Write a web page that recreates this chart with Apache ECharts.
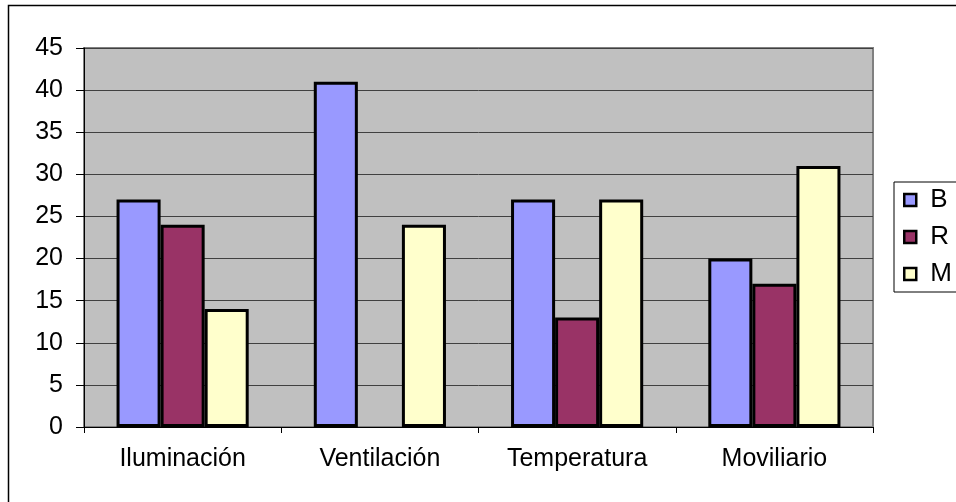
<!DOCTYPE html>
<html>
<head>
<meta charset="utf-8">
<script src="https://cdn.jsdelivr.net/npm/echarts@6/dist/echarts.min.js"></script>
<style>
  html, body { margin: 0; padding: 0; background: #fff; }
  #chart { width: 956px; height: 502px; }
</style>
</head>
<body>
<div id="chart"></div>
<script>
// Survey results per aspect of the room
const categories = ['Iluminación', 'Ventilación', 'Temperatura', 'Moviliario'];
const seriesNames = ['B', 'R', 'M'];
const valuesB = [27, 41, 27, 20];
const valuesR = [24, 0, 13, 17];
const valuesM = [14, 24, 27, 31];
const seriesColors = ['#9999FF', '#993366', '#FFFFCC'];
const yTicks = { min: 0, max: 45, interval: 5 };

const FONT = "'Liberation Sans', Arial, sans-serif";
const seriesValues = [valuesB, valuesR, valuesM];

const chart = echarts.init(document.getElementById('chart'), null, { renderer: 'canvas' });

// Empty bars get no outline so nothing is drawn on the axis
const barData = vals => vals.map(v => ({
  value: v,
  itemStyle: v === 0 ? { borderWidth: 0 } : undefined
}));

chart.setOption({
  animation: false,
  backgroundColor: '#ffffff',
  textStyle: { fontFamily: FONT },
  grid: {
    left: 84, right: 83, top: 48, bottom: 75,
    show: true,
    backgroundColor: '#C0C0C0',
    borderColor: '#808080',
    borderWidth: 2
  },
  graphic: [{
    type: 'rect',
    shape: { x: 8.5, y: 5.5, width: 1000, height: 600 },
    style: { fill: 'none', stroke: '#000', lineWidth: 1.5 },
    silent: true,
    z: 0
  }],
  legend: {
    orient: 'vertical',
    left: 894,
    top: 182,
    padding: [5, 5, 5, 9],
    itemGap: 11,
    itemWidth: 12,
    itemHeight: 12,
    icon: 'rect',
    backgroundColor: '#ffffff',
    borderColor: '#000',
    borderWidth: 1,
    itemStyle: { borderColor: '#000', borderWidth: 2.5 },
    textStyle: {
      fontFamily: FONT, fontSize: 26, color: '#000',
      lineHeight: 26, padding: [0, 0, 0, 9]
    },
    data: seriesNames
  },
  xAxis: {
    type: 'category',
    data: categories,
    axisLine: { lineStyle: { color: '#000', width: 1 } },
    axisTick: { show: true, length: 6, lineStyle: { color: '#000' } },
    axisLabel: { fontFamily: FONT, fontSize: 25, color: '#000', margin: 20 },
    splitLine: { show: false }
  },
  yAxis: {
    type: 'value',
    min: yTicks.min, max: yTicks.max, interval: yTicks.interval,
    axisLine: { show: true, lineStyle: { color: '#000', width: 1 } },
    axisTick: { show: true, length: 8, lineStyle: { color: '#000' } },
    axisLabel: { fontFamily: FONT, fontSize: 25, color: '#000', margin: 21 },
    splitLine: { show: true, lineStyle: { color: '#404040', width: 1 } }
  },
  series: seriesNames.map((name, i) => ({
    name: name,
    type: 'bar',
    data: barData(seriesValues[i]),
    barGap: '0%',
    barCategoryGap: '33%',
    itemStyle: { color: seriesColors[i], borderColor: '#000', borderWidth: 3 }
  }))
});
</script>
</body>
</html>
